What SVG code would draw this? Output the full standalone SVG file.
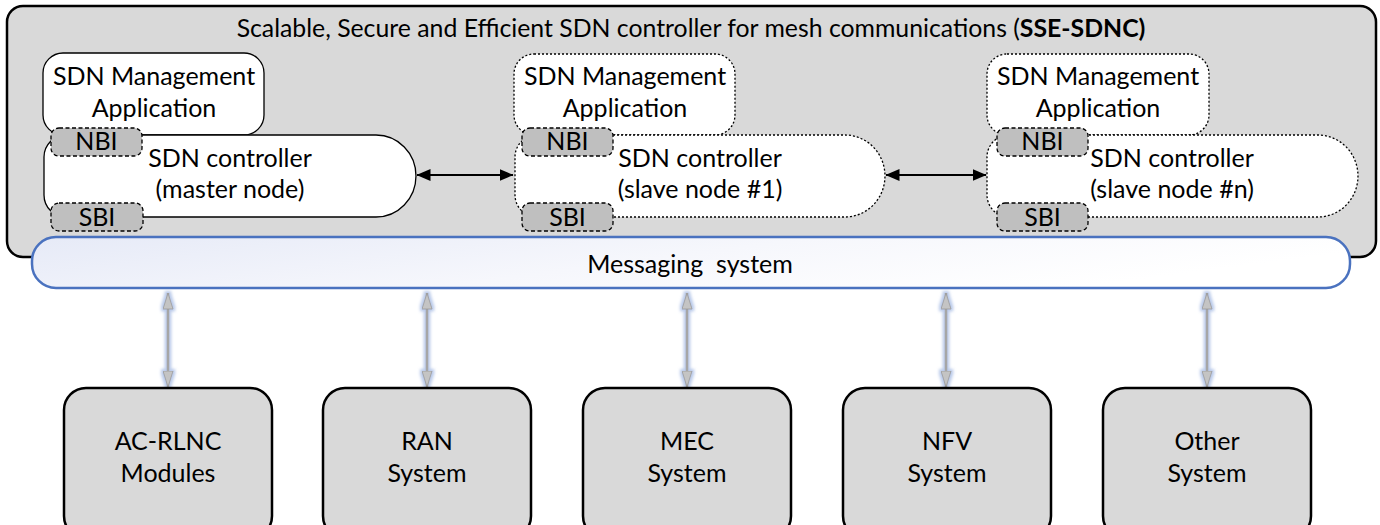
<svg xmlns="http://www.w3.org/2000/svg" width="1380" height="525" viewBox="0 0 1380 525">
<style>
text{font-family:Lato,"Liberation Sans",sans-serif;fill:#000;text-anchor:middle}
.t{font-size:25px}
.ttl{font-size:24.8px}
.app{fill:#fff;stroke:#000;stroke-width:1.3}
.dot{stroke-dasharray:2 2}
.if{fill:#bfbfbf;stroke:#000;stroke-width:1.3;stroke-dasharray:4 2.5}
.ext{fill:#d9d9d9;stroke:#000;stroke-width:2.5}
.peer{stroke:#000;stroke-width:2;fill:none}
.bus{stroke:#a6a6a6;stroke-width:2.5;fill:none}
</style>
<defs>
<linearGradient id="msg" x1="0" y1="0" x2="1" y2="0.3">
<stop offset="0" stop-color="#e6eaf7"/>
<stop offset="0.55" stop-color="#f6f7fc"/>
<stop offset="1" stop-color="#ffffff"/>
</linearGradient>
<marker id="bk" viewBox="0 0 14 12" refX="13.5" refY="6" markerWidth="14" markerHeight="12" markerUnits="userSpaceOnUse" orient="auto-start-reverse">
<path d="M0 0 L14 6 L0 12 Z" fill="#000"/>
</marker>
<marker id="gy" viewBox="0 0 17 11" refX="16.5" refY="5.5" markerWidth="17" markerHeight="11" markerUnits="userSpaceOnUse" orient="auto-start-reverse">
<path d="M0.5 0.5 L16.5 5.5 L0.5 10.5 Z" fill="#c4c4c4" stroke="#9a9a9a" stroke-width="0.8"/>
</marker>
<filter id="glow" x="-200%" y="-20%" width="500%" height="140%">
<feMorphology in="SourceAlpha" operator="dilate" radius="1.5" result="d"/>
<feFlood flood-color="#8aa6dc" flood-opacity="0.6"/>
<feComposite in2="d" operator="in" result="c"/>
<feGaussianBlur in="c" stdDeviation="1.8" result="b"/>
<feMerge><feMergeNode in="b"/><feMergeNode in="SourceGraphic"/></feMerge>
</filter>
</defs>

<g id="sse-sdnc">
<rect x="7" y="6" width="1369" height="251" rx="16" fill="#d9d9d9" stroke="#000" stroke-width="2.5"/>
<text class="ttl" x="691" y="37">Scalable, Secure and Efficient SDN controller for mesh communications (<tspan font-weight="bold">SSE-SDNC)</tspan></text>
</g>

<g id="master-app">
<rect class="app" x="43" y="53" width="221" height="82" rx="20"/>
<text class="t" x="154" y="85">SDN Management</text>
<text class="t" x="154" y="117">Application</text>
</g>
<g id="master-ctrl">
<path class="app" d="M66 135 H376 A40 41 0 0 1 376 217 H66 A22 22 0 0 1 44 195 V157 A22 22 0 0 1 66 135 Z"/>
<text class="t" x="230" y="167">SDN controller</text>
<text class="t" x="230" y="198">(master node)</text>
</g>
<g id="master-nbi">
<rect class="if" x="51" y="128" width="91" height="28" rx="8"/>
<text class="t" x="96.5" y="150">NBI</text>
</g>
<g id="master-sbi">
<rect class="if" x="51" y="203" width="92" height="28" rx="8"/>
<text class="t" x="97" y="226">SBI</text>
</g>

<g id="slave1-app">
<rect class="app dot" x="514" y="54" width="221" height="81" rx="20"/>
<text class="t" x="625" y="85">SDN Management</text>
<text class="t" x="625" y="117">Application</text>
</g>
<g id="slave1-ctrl">
<path class="app dot" d="M537 135 H845 A40 41 0 0 1 845 217 H537 A22 22 0 0 1 515 195 V157 A22 22 0 0 1 537 135 Z"/>
<text class="t" x="700" y="167">SDN controller</text>
<text class="t" x="700" y="198">(slave node #1)</text>
</g>
<g id="slave1-nbi">
<rect class="if" x="522" y="128" width="91" height="28" rx="8"/>
<text class="t" x="567.5" y="150">NBI</text>
</g>
<g id="slave1-sbi">
<rect class="if" x="522" y="203" width="91" height="28" rx="8"/>
<text class="t" x="567.5" y="226">SBI</text>
</g>

<g id="slaven-app">
<rect class="app dot" x="987" y="54" width="222" height="81" rx="20"/>
<text class="t" x="1098" y="85">SDN Management</text>
<text class="t" x="1098" y="117">Application</text>
</g>
<g id="slaven-ctrl">
<path class="app dot" d="M1009 135 H1318 A40 41 0 0 1 1318 217 H1009 A22 22 0 0 1 987 195 V157 A22 22 0 0 1 1009 135 Z"/>
<text class="t" x="1172" y="167">SDN controller</text>
<text class="t" x="1172" y="198">(slave node #n)</text>
</g>
<g id="slaven-nbi">
<rect class="if" x="997" y="128" width="91" height="28" rx="8"/>
<text class="t" x="1042.5" y="150">NBI</text>
</g>
<g id="slaven-sbi">
<rect class="if" x="997" y="203" width="91" height="28" rx="8"/>
<text class="t" x="1042.5" y="226">SBI</text>
</g>

<g id="messaging">
<rect x="32" y="237" width="1318" height="51" rx="24" fill="url(#msg)" stroke="#4a72bf" stroke-width="2.5"/>
<text class="t" x="690" y="273" xml:space="preserve">Messaging  system</text>
</g>

<g id="connectors">
<line class="peer" x1="417" y1="175" x2="513" y2="175" marker-start="url(#bk)" marker-end="url(#bk)"/>
<line class="peer" x1="886" y1="175" x2="986" y2="175" marker-start="url(#bk)" marker-end="url(#bk)"/>
<g filter="url(#glow)">
<line class="bus" x1="168" y1="293" x2="168" y2="387" marker-start="url(#gy)" marker-end="url(#gy)"/>
<line class="bus" x1="427" y1="293" x2="427" y2="387" marker-start="url(#gy)" marker-end="url(#gy)"/>
<line class="bus" x1="687" y1="293" x2="687" y2="387" marker-start="url(#gy)" marker-end="url(#gy)"/>
<line class="bus" x1="946" y1="293" x2="946" y2="387" marker-start="url(#gy)" marker-end="url(#gy)"/>
<line class="bus" x1="1207" y1="293" x2="1207" y2="387" marker-start="url(#gy)" marker-end="url(#gy)"/>
</g>
</g>

<g id="ac-rlnc">
<rect class="ext" x="64" y="388" width="208" height="150" rx="22"/>
<text class="t" x="168" y="450">AC-RLNC</text>
<text class="t" x="168" y="482">Modules</text>
</g>
<g id="ran">
<rect class="ext" x="323" y="388" width="208" height="150" rx="22"/>
<text class="t" x="427" y="450">RAN</text>
<text class="t" x="427" y="482">System</text>
</g>
<g id="mec">
<rect class="ext" x="583" y="388" width="208" height="150" rx="22"/>
<text class="t" x="687" y="450">MEC</text>
<text class="t" x="687" y="482">System</text>
</g>
<g id="nfv">
<rect class="ext" x="843" y="388" width="208" height="150" rx="22"/>
<text class="t" x="947" y="450">NFV</text>
<text class="t" x="947" y="482">System</text>
</g>
<g id="other">
<rect class="ext" x="1103" y="388" width="208" height="150" rx="22"/>
<text class="t" x="1207" y="450">Other</text>
<text class="t" x="1207" y="482">System</text>
</g>
</svg>
